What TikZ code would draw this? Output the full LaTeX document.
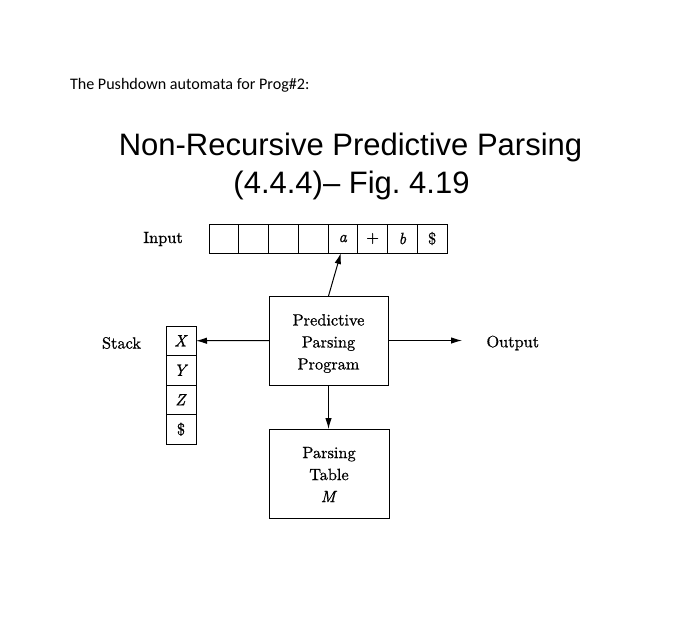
\documentclass[tikz,border=0pt]{standalone}
\usepackage{fontspec}
\newfontfamily\arialf{Liberation Sans}
\newfontfamily\calib{Carlito}
\newfontfamily\cmten{lmroman10-regular.otf}[ItalicFont=lmroman10-italic.otf,FakeBold=0.8]
\usetikzlibrary{arrows.meta,calc}
\begin{document}
\begin{tikzpicture}[x=1pt,y=-1pt,
  every node/.style={inner sep=0pt,outer sep=0pt},
  dfont/.style={font=\cmten\fontsize{16.3}{22}\selectfont},
  dtext/.style={dfont},
  cell/.style={dfont,draw,line width=1pt,minimum width=29.75pt,minimum height=29pt},
  scell/.style={dfont,draw,line width=1pt,minimum width=30pt,minimum height=29.5pt},
  bigbox/.style={draw,line width=1pt,minimum height=89pt},
  boxtext/.style={dfont,align=center},
  arr/.style={line width=1pt,-{Latex[length=11pt,width=6.5pt]}}]
\path[use as bounding box] (0,0) rectangle (695,619);
% header and title
\node[anchor=base west,font=\calib\fontsize{16.1}{19}\selectfont] (hdr) at (70,89) {The Pushdown automata for Prog\#2:};
\node[anchor=base,font=\arialf\fontsize{31}{36}\selectfont] (t1) at (350.5,155) {Non-Recursive Predictive Parsing};
\node[anchor=base,font=\arialf\fontsize{31}{36}\selectfont] (t2) at (351.5,193) {(4.4.4)– Fig.\ 4.19};
% input tape
\foreach \i/\c in {1/{},2/{},3/{},4/{},5/{\textit{a}},6/{+},7/{\textit{b}},8/{\$}}{
  \node[cell] (in\i) at ({209+29.75*(\i-0.5)},238.5) {\c};
}
\node[dtext] (inlbl) at (163,239) {Input};
% stack
\foreach \i/\c in {1/{\textit{X}},2/{\textit{Y}},3/{\textit{Z}},4/{\$}}{
  \node[scell] (st\i) at (181,{326+29.5*(\i-0.5)}) {\c};
}
\node[dtext] (stlbl) at (121.5,343) {Stack};
% program and table
\node[bigbox,minimum width=119pt] (prog) at (328.5,340.5) {};
\node[boxtext] (progtxt) at (328.5,343.5) {Predictive\\Parsing\\Program};
\node[bigbox,minimum width=120pt] (tbl) at (329,473.5) {};
\node[boxtext] (tbltxt) at (329,474.5) {Parsing\\Table\\\textit{M}};
\node[dtext,anchor=west] (outlbl) at (486.5,343) {Output};
\coordinate (outend) at (462,340.5);
% connectors
\draw[arr] (prog.north) -- ($(in5.south)+(-2,0)$);
\draw[arr] (prog.west) -- (st1.east);
\draw[arr] (prog.east) -- (outend);
\draw[arr] (prog.south) -- (tbl.north -| prog.south);
\end{tikzpicture}
\end{document}
